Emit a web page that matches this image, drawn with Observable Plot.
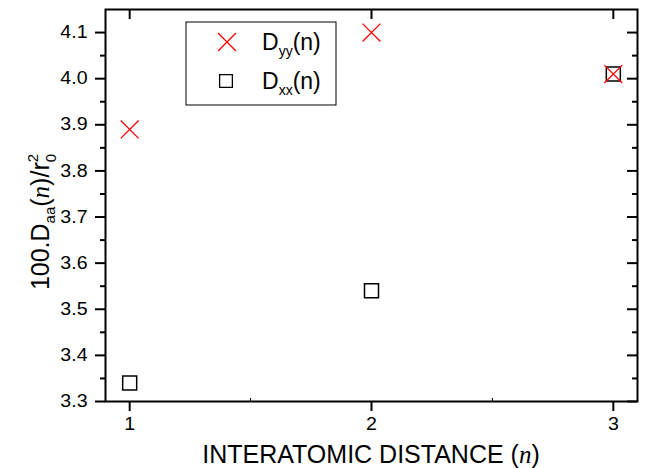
<!DOCTYPE html>
<html><head><meta charset="utf-8">
<script src="https://cdn.jsdelivr.net/npm/d3@7"></script>
<script src="https://cdn.jsdelivr.net/npm/@observablehq/plot@0.6"></script>
<style>body{margin:0;background:#fff} svg{display:block}</style>
</head><body><div id="chart"></div>
<script>
const distances = [1, 2, 3];
const dyyValues = [3.89, 4.10, 4.01];
const dxxValues = [3.34, 3.54, 4.01];
const yMajorTicks = [3.3, 3.4, 3.5, 3.6, 3.7, 3.8, 3.9, 4.0, 4.1];
const yMinorTicks = [3.35, 3.45, 3.55, 3.65, 3.75, 3.85, 3.95, 4.05];
const xMajorTicks = [1, 2, 3];
const xMinorTicks = [1.5, 2.5];
const legendLabels = ["yy", "xx"];

const W = 650, H = 468, ML = 105, MR = 13, MT = 9, MB = 67;
const PW = W - ML - MR, PH = H - MT - MB;
const SANS = "'Liberation Sans', Arial, sans-serif";
const SERIF = "'Liberation Serif', 'Times New Roman', serif";

const dyy = distances.map((n, i) => ({n, v: dyyValues[i]}));
const dxx = distances.map((n, i) => ({n, v: dxxValues[i]}));

const tk = {stroke: "#000", strokeWidth: 2};
const chart = Plot.plot({
  width: W, height: H,
  marginLeft: ML, marginRight: MR, marginTop: MT, marginBottom: MB,
  style: {fontFamily: SANS, background: "#fff", color: "#000"},
  x: {domain: [0.9, 3.1]},
  y: {domain: [3.3, 4.15]},
  marks: [
    Plot.ruleY(yMajorTicks, {...tk, insetLeft: -10, insetRight: PW}),
    Plot.ruleY(yMinorTicks, {...tk, insetLeft: -5, insetRight: PW}),
    Plot.ruleY(yMajorTicks, {...tk, insetLeft: PW - 10}),
    Plot.ruleY(yMinorTicks, {...tk, insetLeft: PW - 5}),
    Plot.ruleX(xMajorTicks, {...tk, insetTop: PH, insetBottom: -10}),
    Plot.ruleX(xMinorTicks, {stroke: "#000", strokeWidth: 1, insetTop: PH - 3}),
    Plot.ruleX(xMajorTicks, {...tk, insetBottom: PH - 10}),
    Plot.axisY({ticks: yMajorTicks, tickSize: 0, tickPadding: 18, tickFormat: d3.format(".1f"), fontSize: 17.5, label: null}),
    Plot.axisX({ticks: xMajorTicks, tickSize: 0, tickPadding: 16, tickFormat: d3.format("d"), fontSize: 17.5, label: null}),
    Plot.frame({stroke: "#000", strokeWidth: 2}),
    Plot.dot(dxx, {x: "n", y: "v", symbol: "square", r: 7.9, stroke: "#000", strokeWidth: 1.5, fill: "none"}),
    Plot.dot(dyy, {x: "n", y: "v", symbol: "times", r: 8.2, stroke: "#ff0000", strokeWidth: 1.3})
  ]
});
document.getElementById("chart").appendChild(chart);
const svg = d3.select(chart);

// y title
const yt = svg.append("text")
  .attr("transform", `translate(49, 222) rotate(-90)`)
  .attr("text-anchor", "middle").attr("font-size", 25).attr("fill", "#000").attr("font-family", SANS);
yt.append("tspan").text("100.D");
yt.append("tspan").attr("font-size", 15).attr("dy", 6).text("aa");
yt.append("tspan").attr("dy", -6).text("(");
yt.append("tspan").attr("font-family", SERIF).attr("font-style", "italic").text("n");
yt.append("tspan").text(")/r");
yt.append("tspan").attr("font-size", 15).attr("dy", 7).text("0");
yt.append("tspan").attr("font-size", 15).attr("dx", -8.3).attr("dy", -18).text("2");

// x title
const xt = svg.append("text")
  .attr("x", 371).attr("y", 463).attr("text-anchor", "middle")
  .attr("font-size", 25).attr("fill", "#000").attr("font-family", SANS);
xt.append("tspan").text("INTERATOMIC DISTANCE (");
xt.append("tspan").attr("font-family", SERIF).attr("font-style", "italic").text("n");
xt.append("tspan").text(")");

// legend
const lg = svg.append("g");
lg.append("rect").attr("x", 186).attr("y", 22).attr("width", 150).attr("height", 83)
  .attr("fill", "#fff").attr("stroke", "#000").attr("stroke-width", 1);
lg.append("path").attr("transform", "translate(227,42)")
  .attr("d", d3.symbol(d3.symbolTimes, Math.PI * 8.2 * 8.2)())
  .attr("fill", "none").attr("stroke", "#ff0000").attr("stroke-width", 1.3);
lg.append("path").attr("transform", "translate(226,81)")
  .attr("d", d3.symbol(d3.symbolSquare, Math.PI * 7.2 * 7.2)())
  .attr("fill", "none").attr("stroke", "#000").attr("stroke-width", 1.3);
legendLabels.forEach((lab, i) => {
  const t = lg.append("text").attr("x", 262).attr("y", i === 0 ? 50 : 89)
    .attr("text-anchor", "start")
    .attr("font-size", 23).attr("fill", "#000").attr("font-family", SANS);
  t.append("tspan").text("D");
  t.append("tspan").attr("font-size", 14).attr("dy", 6).text(lab);
  t.append("tspan").attr("dy", -6).text("(n)");
});

// slight horizontal stretch of tick labels to mimic the reference
svg.selectAll('g[aria-label="y-axis tick label"] text, g[aria-label="x-axis tick label"] text').each(function() {
  const L = this.getComputedTextLength();
  this.setAttribute("textLength", (L * 1.12).toFixed(1));
  this.setAttribute("lengthAdjust", "spacingAndGlyphs");
});
</script></body></html>
